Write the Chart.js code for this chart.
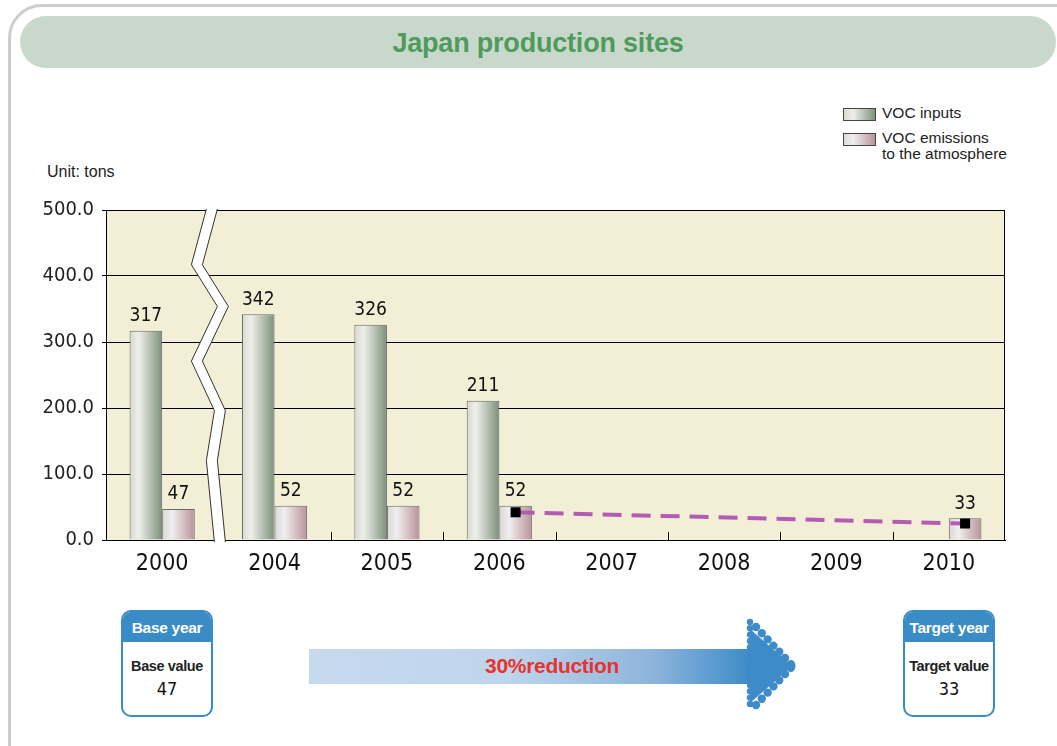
<!DOCTYPE html>
<html>
<head>
<meta charset="utf-8">
<script src="https://cdn.jsdelivr.net/npm/chart.js@4.4.0/dist/chart.umd.min.js"></script>
<style>
  html, body { margin: 0; padding: 0; background: #fff; }
  body { width: 1057px; height: 746px; position: relative; overflow: hidden; font-family: 'Liberation Sans', Arial, sans-serif; }
  .frame { position: absolute; left: 8px; top: 4px; width: 1080px; height: 780px; border: 3px solid #cbcdcf; border-radius: 34px; }
  .banner { position: absolute; left: 20px; top: 16px; width: 1036px; height: 52px; background: #c8d9cb; border-radius: 26px;
            text-align: center; line-height: 54px; font-size: 27px; font-weight: bold; color: #4f9a5c; letter-spacing: -0.2px; }
  .legend { position: absolute; left: 843px; top: 105px; font-size: 15.5px; color: #222; }
  .legend .row { position: relative; height: 25px; }
  .legend .box { position: absolute; left: 0; top: 3px; width: 31px; height: 11px; border: 1px solid #444; }
  .legend .txt { position: absolute; left: 39px; top: 0; line-height: 16px; white-space: nowrap; }
  .unit { position: absolute; left: 47px; top: 163px; font-size: 16px; color: #222; }
  .chart-wrap { position: absolute; left: 0; top: 190px; width: 1057px; height: 400px; }
  .tbox { position: absolute; top: 610px; width: 88px; height: 103px; border: 2px solid #3a8cc7; border-radius: 10px; overflow: hidden; background: #fff; text-align: center; }
  .tbox .head { height: 30px; line-height: 31px; background: #3a8cc7; color: #fff; font-weight: bold; font-size: 15.5px; letter-spacing: -0.3px; white-space: nowrap; }
  .tbox .lbl { margin-top: 16px; font-weight: bold; font-size: 14.5px; color: #222; letter-spacing: -0.4px; white-space: nowrap; }
  .tbox .val { margin-top: 4px; font-size: 18px; color: #111; font-family: 'Liberation Sans Narrow', 'DejaVu Sans Condensed', sans-serif; }
  .arrow { position: absolute; left: 309px; top: 649px; width: 442px; height: 35px;
           background: linear-gradient(to right, #c6daee 0%, #bed5eb 45%, #8db4db 78%, #3d8bc8 100%); }
  .arrow-text { position: absolute; left: 485px; top: 654px; font-size: 21px; font-weight: bold; color: #e6332e; letter-spacing: -0.3px; }
  .head-svg { position: absolute; left: 740px; top: 615px; }
</style>
</head>
<body>
<div class="frame"></div>
<div class="banner">Japan production sites</div>

<div class="legend">
  <div class="row"><div class="box" style="background: linear-gradient(to right, #d9dcd2, #eeeee8 30%, #7e927c);"></div><div class="txt">VOC inputs</div></div>
  <div class="row"><div class="box" style="background: linear-gradient(to right, #dcdcdc, #f0eeee 30%, #b8949c);"></div><div class="txt">VOC emissions<br>to the atmosphere</div></div>
</div>
<div class="unit">Unit: tons</div>

<div class="chart-wrap"><canvas id="voc-chart"></canvas></div>

<div class="tbox" style="left: 121px;">
  <div class="head">Base year</div>
  <div class="lbl">Base value</div>
  <div class="val">47</div>
</div>
<div class="arrow"></div>
<div class="arrow-text">30%reduction</div>
<svg class="head-svg" width="70" height="100" id="arrow-head"></svg>
<div class="tbox" style="left: 903px;">
  <div class="head">Target year</div>
  <div class="lbl">Target value</div>
  <div class="val">33</div>
</div>

<script>
// VOC data, Japan production sites (tons)
const years = ['2000', '2004', '2005', '2006', '2007', '2008', '2009', '2010'];
const vocInputs = [317, 342, 326, 211, null, null, null, null];
const vocEmissions = [47, 52, 52, 52, null, null, null, 33];
const trendLine = [null, null, null, 42, null, null, null, 25];
const yTicks = [0, 100, 200, 300, 400, 500];

const narrow = "'Liberation Sans Narrow', 'DejaVu Sans Condensed', sans-serif";
const barShare = 0.58;

// arrow head made of dots (decoration)
(function() {
    const svg = document.getElementById('arrow-head');
    const blue = '#3d8bc8';
    let out = '<polygon points="10,14 52,51 10,88" fill="' + blue + '"/>';
    for (let y = 7; y <= 95; y += 6.3) {
        out += '<circle cx="10" cy="' + y + '" r="3.2" fill="' + blue + '"/>';
    }
    for (let i = 0; i <= 6; i++) {
        const x = 16 + i * 5.8, dy = 12 + i * 6.2;
        out += '<circle cx="' + x + '" cy="' + dy + '" r="4.2" fill="' + blue + '"/>';
        out += '<circle cx="' + x + '" cy="' + (102 - dy) + '" r="4.2" fill="' + blue + '"/>';
    }
    out += '<circle cx="51" cy="51" r="4.5" fill="' + blue + '"/>';
    svg.innerHTML = out;
})();

function barGradient(ctx, side, stops) {
    const chart = ctx.chart;
    const xs = chart.scales.x;
    if (!chart.chartArea || !xs || ctx.type !== 'data') return stops[stops.length - 1][1];
    const cw = xs.width / years.length;
    const bw = cw * barShare / 2;
    const left = xs.getPixelForValue(ctx.dataIndex) - bw + side * bw;
    const g = chart.ctx.createLinearGradient(left, 0, left + bw, 0);
    stops.forEach(function(s) { g.addColorStop(s[0], s[1]); });
    return g;
}

const inputStops = [[0, '#d6dacf'], [0.28, '#efefe9'], [1, '#7c907a']];
const emissionStops = [[0, '#d8d8d6'], [0.3, '#f0eeee'], [1, '#b8939b']];

const plotDecor = {
    id: 'plotDecor',
    beforeDraw(chart) {
        const a = chart.chartArea, c = chart.ctx;
        c.save();
        c.fillStyle = '#f3eed6';
        c.fillRect(a.left, a.top, a.right - a.left, a.bottom - a.top);
        c.restore();
    },
    afterDatasetsDraw(chart) {
        const a = chart.chartArea, c = chart.ctx;
        const xs = chart.scales.x, ys = chart.scales.y;
        c.save();

        // frame
        c.strokeStyle = '#000';
        c.lineWidth = 1;
        c.strokeRect(a.left + 0.5, a.top + 0.5, a.right - a.left - 1, a.bottom - a.top);

        // inner tick marks between categories
        c.beginPath();
        for (let i = 0; i < years.length - 1; i++) {
            const x = Math.round((xs.getPixelForValue(i) + xs.getPixelForValue(i + 1)) / 2) + 0.5;
            c.moveTo(x, a.bottom);
            c.lineTo(x, a.bottom - 8);
        }
        c.stroke();

        // axis break between 2000 and 2004
        const mid = (xs.getPixelForValue(0) + xs.getPixelForValue(1)) / 2;
        const h = a.bottom - a.top;
        const zig = [[0, -12], [0.166, -27], [0.292, -1], [0.458, -27], [0.608, -4], [0.759, -12], [1, -4]];
        const band = 11;
        const pts = zig.map(function(p) {
            const y = p[0] === 0 ? a.top - 1 : (p[0] === 1 ? a.bottom + 2 : a.top + p[0] * h);
            return [mid + p[1], y];
        });
        c.beginPath();
        pts.forEach(function(p, i) { i ? c.lineTo(p[0], p[1]) : c.moveTo(p[0], p[1]); });
        for (let i = pts.length - 1; i >= 0; i--) c.lineTo(pts[i][0] + band, pts[i][1]);
        c.closePath();
        c.fillStyle = '#fff';
        c.fill();
        c.strokeStyle = '#333';
        c.lineWidth = 1;
        [0, band].forEach(function(off) {
            c.beginPath();
            pts.forEach(function(p, i) { i ? c.lineTo(p[0] + off, p[1]) : c.moveTo(p[0] + off, p[1]); });
            c.stroke();
        });

        // value labels
        c.fillStyle = '#111';
        c.font = '19px ' + narrow;
        c.textAlign = 'center';
        c.textBaseline = 'bottom';
        [0, 1].forEach(function(di) {
            const meta = chart.getDatasetMeta(di);
            const vals = chart.data.datasets[di].data;
            meta.data.forEach(function(el, i) {
                if (vals[i] == null) return;
                c.fillText(String(vals[i]), el.x, el.y - 5);
            });
        });

        // reduction trend, dashed, anchored on emission bars
        const emMeta = chart.getDatasetMeta(1);
        const tp = [];
        trendLine.forEach(function(v, i) {
            if (v == null) return;
            tp.push([emMeta.data[i].x, ys.getPixelForValue(v)]);
        });
        c.strokeStyle = '#b35cb6';
        c.lineWidth = 4;
        c.setLineDash([19, 10]);
        c.beginPath();
        tp.forEach(function(p, i) { i ? c.lineTo(p[0], p[1]) : c.moveTo(p[0], p[1]); });
        c.stroke();
        c.setLineDash([]);
        c.fillStyle = '#000';
        tp.forEach(function(p) { c.fillRect(p[0] - 5, p[1] - 5, 10, 10); });

        c.restore();
    }
};

const vocCtx = document.getElementById('voc-chart');
new Chart(vocCtx, {
    type: 'bar',
    data: {
        labels: years,
        datasets: [
            {
                label: 'VOC inputs',
                data: vocInputs,
                backgroundColor: function(ctx) { return barGradient(ctx, 0, inputStops); },
                borderColor: '#6a6a6a',
                borderWidth: 1,
                categoryPercentage: barShare,
                barPercentage: 1
            },
            {
                label: 'VOC emissions to the atmosphere',
                data: vocEmissions,
                backgroundColor: function(ctx) { return barGradient(ctx, 1, emissionStops); },
                borderColor: '#6a6a6a',
                borderWidth: 1,
                categoryPercentage: barShare,
                barPercentage: 1
            }
        ]
    },
    options: {
        responsive: true,
        maintainAspectRatio: false,
        animation: false,
        layout: { padding: { top: 18, right: 52, bottom: 0, left: 0 } },
        plugins: {
            legend: { display: false },
            tooltip: { enabled: false }
        },
        scales: {
            x: {
                grid: { display: false, drawTicks: false },
                border: { display: true, color: '#000' },
                ticks: { color: '#111', font: { family: narrow, size: 23 }, padding: 10 },
                afterFit: function(scale) { scale.height = 50; }
            },
            y: {
                min: 0,
                max: 500,
                afterBuildTicks: function(scale) { scale.ticks = yTicks.map(function(v) { return { value: v }; }); },
                grid: { color: '#000', lineWidth: 1, tickLength: 4 },
                border: { display: true, color: '#000' },
                ticks: {
                    color: '#222',
                    font: { family: narrow, size: 20 },
                    padding: 8,
                    callback: function(value) { return Number(value).toFixed(1); }
                },
                afterFit: function(scale) { scale.width = 106; }
            }
        }
    },
    plugins: [plotDecor]
});
</script>
</body>
</html>
